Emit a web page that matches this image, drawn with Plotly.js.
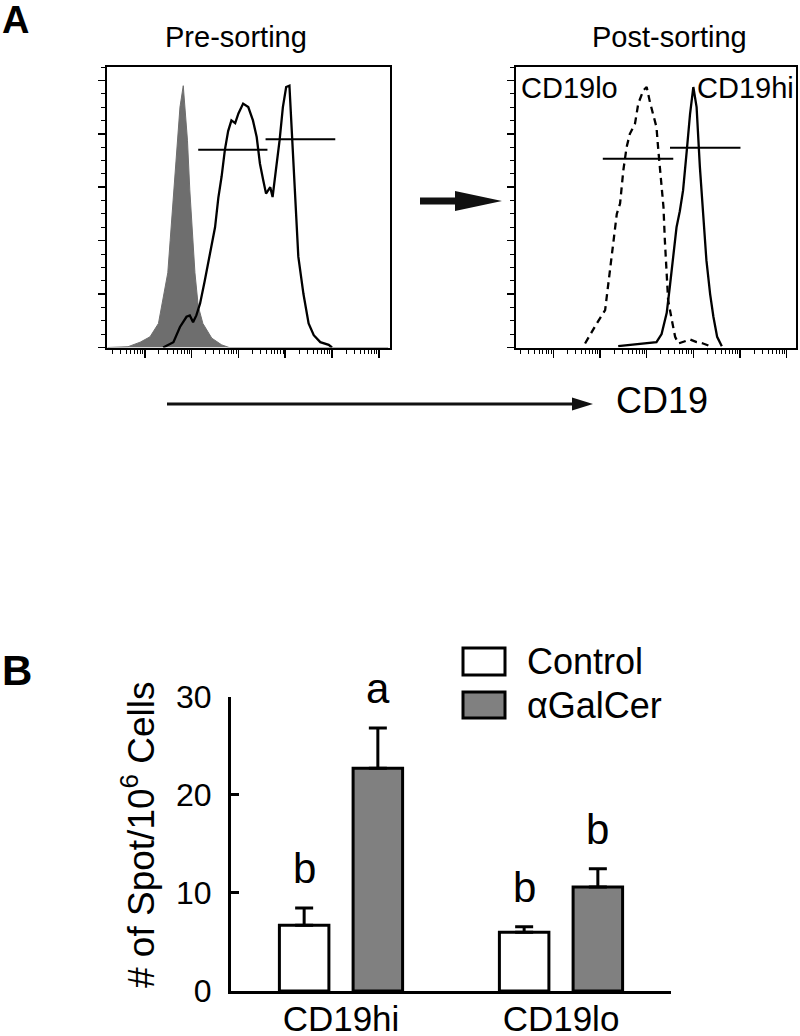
<!DOCTYPE html>
<html>
<head>
<meta charset="utf-8">
<script src="https://cdn.plot.ly/plotly-3.0.1.min.js"></script>
<style>html,body{margin:0;padding:0;background:#fff;}#chart{width:800px;height:1036px;}</style>
</head>
<body>
<div id="chart"></div>
<script>
// ---------- Panel A: flow histograms (x in log10 decades, y in % of max) ----------
const isoDec = [-0.8,-0.36,-0.1,0.11,0.29,0.49,0.54,0.62,0.69,0.75,0.82,0.91,0.96,1.02,1.07,1.14,1.24,1.43,1.64,1.8,5.2];
const isoY   = [0,0.3,2,4,9,28,40,59,77.6,90,98,77.6,59,40,28,15.5,9,3.5,1,0,0];

const preDec = [0.39,0.61,0.75,0.89,0.96,1.03,1.10,1.18,1.28,1.39,1.50,1.57,1.64,1.71,1.78,1.85,1.93,2.00,2.10,2.21,2.31,2.39,2.46,2.53,2.59,2.68,2.73,2.80,2.88,2.95,3.02,3.09,3.15,3.21,3.28,3.39,3.50,3.61,3.75,3.93,4.0];
const preY   = [0,2,7.7,11.5,12,9.5,12,16.5,25,35,45,56,64,74,81,85,84,87.6,91.3,90,85,78.8,68.8,62.6,57.6,60,56.3,66.3,77.6,90,97.5,98,77.6,52.6,34,20,9,4.6,2,1,0];

const loDec = [0.68,0.79,0.93,1.11,1.21,1.28,1.36,1.43,1.50,1.57,1.64,1.75,1.82,1.93,2.00,2.07,2.14,2.21,2.25,2.30,2.36,2.39,2.43,2.46,2.54,2.61,2.68,2.78,2.93,3.07,3.21,3.36];
const loY   = [1.5,5,9,14,27.7,37.6,50,53.9,66.3,75,80,83.8,91.3,96.3,97.5,91.9,87.5,82.5,73.8,65,52.6,40,27.7,17.7,10.2,4,1.5,2,3,2,1.5,0.5];

const hiDec = [1.39,1.93,2.21,2.32,2.43,2.50,2.57,2.64,2.71,2.78,2.86,2.93,3.00,3.07,3.14,3.21,3.28,3.36,3.43,3.51,3.61];
const hiY   = [0.5,1.5,2,5,13,23.3,35,45,51,58.8,73.8,87.5,97.5,90,67.6,48.9,32.7,20,11.5,4,0.5];

// gates: [start decade, end decade, height]
const preGates  = [[1.14,2.62,74],[2.58,4.07,78]];
const postGates = [[1.06,2.57,70.7],[2.50,4.01,74.8]];

// ---------- Panel B: ELISPOT bars ----------
const groups   = ['CD19hi','CD19lo'];
const series   = ['Control','\u03B1GalCer'];
const control  = [6.7, 6.0];
const controlE = [1.75, 0.55];
const agal     = [22.7, 10.6];
const agalE    = [4.1, 1.85];
const sigCtrl  = ['b','b'];
const sigAgal  = ['a','b'];

// ---------- helpers ----------
const W = 800, H = 1036;
const fx = px => px / W;
const fy = py => 1 - py / H;
const lin = d => d.map(v => Math.pow(10, v));
function gateTrace(g, xa, ya){
  const x = [], y = [];
  g.forEach(s => { x.push(Math.pow(10,s[0]), Math.pow(10,s[1]), null); y.push(s[2], s[2], null); });
  return {x, y, xaxis: xa, yaxis: ya, mode: 'lines', line: {color: '#000', width: 2}, hoverinfo: 'skip'};
}
const FONT = 'Liberation Sans, Arial, Helvetica, sans-serif';

const traces = [
  {x: lin(isoDec), y: isoY, xaxis: 'x', yaxis: 'y', mode: 'lines', fill: 'tozeroy',
   fillcolor: '#6e6e6e', line: {color: '#6e6e6e', width: 1}},
  {x: lin(preDec), y: preY, xaxis: 'x', yaxis: 'y', mode: 'lines', line: {color: '#000', width: 2.3}},
  gateTrace(preGates, 'x', 'y'),
  {x: lin(loDec), y: loY, xaxis: 'x2', yaxis: 'y2', mode: 'lines', line: {color: '#000', width: 2.3, dash: '7px,5px'}},
  {x: lin(hiDec), y: hiY, xaxis: 'x2', yaxis: 'y2', mode: 'lines', line: {color: '#000', width: 2.3}},
  gateTrace(postGates, 'x2', 'y2'),
  {type: 'bar', name: series[0], x: groups, y: control, xaxis: 'x3', yaxis: 'y3',
   width: 0.225, offset: -0.28,
   marker: {color: '#ffffff', line: {color: '#000', width: 3}},
   error_y: {type: 'data', array: controlE, arrayminus: [0,0], symmetric: false, color: '#000', thickness: 3, width: 9}},
  {type: 'bar', name: series[1], x: groups, y: agal, xaxis: 'x3', yaxis: 'y3',
   width: 0.225, offset: 0.055,
   marker: {color: '#808080', line: {color: '#000', width: 3}},
   error_y: {type: 'data', array: agalE, arrayminus: [0,0], symmetric: false, color: '#000', thickness: 3, width: 9}}
];

const histX = (dom, rng, anchor) => ({
  domain: dom, type: 'log', range: rng, anchor: anchor, showline: true, mirror: true, linewidth: 2, linecolor: '#000',
  showgrid: false, zeroline: false, showticklabels: false, ticks: 'outside', ticklen: 8, tickwidth: 1.5,
  tickcolor: '#000', dtick: 1,
  minor: {ticks: 'outside', ticklen: 4, tickwidth: 1, tickcolor: '#000', dtick: 'D1', showgrid: false}
});
const histY = (dom, anchor) => ({
  domain: dom, range: [0, 105], anchor: anchor, showline: true, mirror: true, linewidth: 2, linecolor: '#000',
  showgrid: false, zeroline: false, showticklabels: false, ticks: 'outside', ticklen: 7, tickwidth: 1.5,
  tickcolor: '#000', dtick: 20, tick0: 0,
  minor: {ticks: 'outside', ticklen: 4, tickwidth: 1, tickcolor: '#000', dtick: 5, showgrid: false}
});

function label(text, px, py, size, extra){
  return Object.assign({text: text, x: fx(px), y: fy(py), xref: 'paper', yref: 'paper',
    xanchor: 'center', yanchor: 'middle', showarrow: false,
    font: {size: size, color: '#000', family: FONT}}, extra || {});
}
const annotations = [
  label('<b>A</b>', 0, 20, 38, {xanchor: 'left'}),
  label('<b>B</b>', 0, 670, 42, {xanchor: 'left'}),
  label('Pre-sorting', 236, 37, 29),
  label('Post-sorting', 669, 37, 29),
  label('CD19lo', 519, 88, 29, {xanchor: 'left'}),
  label('CD19hi', 695, 88, 29, {xanchor: 'left'}),
  label('CD19', 614, 400, 36, {xanchor: 'left'}),
  label('# of Spot/10<sup>6</sup> Cells', 138, 835, 37, {textangle: -90}),
  label(series[0], 525, 661, 36, {xanchor: 'left'}),
  label(series[1], 525, 705, 36, {xanchor: 'left'})
];
// significance letters above bars
groups.forEach((g, i) => {
  annotations.push({text: sigCtrl[i], x: i - 0.1675, y: control[i] + controlE[i], xref: 'x3', yref: 'y3', xanchor: 'center', yanchor: 'bottom', yshift: 14, showarrow: false, font: {size: 42, color: '#000', family: FONT}});
  annotations.push({text: sigAgal[i], x: i + 0.1675, y: agal[i] + agalE[i], xref: 'x3', yref: 'y3', xanchor: 'center', yanchor: 'bottom', yshift: 14, showarrow: false, font: {size: 42, color: '#000', family: FONT}});
});

function poly(pts){ return 'M' + pts.map(p => fx(p[0]) + ',' + fy(p[1])).join('L') + 'Z'; }
const shapes = [
  // block arrow between histograms
  {type: 'path', xref: 'paper', yref: 'paper', path: poly([[420,197.5],[455,197.5],[455,191],[502,201],[455,211],[455,204.5],[420,204.5]]), fillcolor: '#111', line: {width: 0}},
  // CD19 axis arrow
  {type: 'line', xref: 'paper', yref: 'paper', x0: fx(167), x1: fx(576), y0: fy(404), y1: fy(404), line: {color: '#111', width: 3}},
  {type: 'path', xref: 'paper', yref: 'paper', path: poly([[572,397.5],[593,404],[572,410.5]]), fillcolor: '#111', line: {width: 0}},
  // legend swatches
  {type: 'rect', xref: 'paper', yref: 'paper', x0: fx(463), x1: fx(505), y0: fy(648), y1: fy(675), fillcolor: '#ffffff', line: {color: '#000', width: 3}},
  {type: 'rect', xref: 'paper', yref: 'paper', x0: fx(463), x1: fx(505), y0: fy(692), y1: fy(718), fillcolor: '#808080', line: {color: '#000', width: 3}}
];

const layout = {
  width: W, height: H, autosize: false, showlegend: false,
  margin: {l: 0, r: 0, t: 0, b: 0, pad: 0},
  paper_bgcolor: '#fff', plot_bgcolor: '#fff',
  font: {family: FONT, color: '#000'},
  barmode: 'overlay',
  xaxis: histX([fx(107), fx(390)], [-0.81, 5.24], 'y'),
  yaxis: histY([fy(347.5), fy(67)], 'x'),
  xaxis2: histX([fx(516), fx(796)], [-0.8, 5.2], 'y2'),
  yaxis2: histY([fy(347.5), fy(67)], 'x2'),
  xaxis3: {domain: [fx(231), fx(671)], range: [-0.5, 1.5], anchor: 'y3', showline: true, linewidth: 3, linecolor: '#000',
           showgrid: false, zeroline: false, ticks: '', tickfont: {size: 35, family: FONT, color: '#000'}, ticklabelstandoff: -5},
  yaxis3: {domain: [fy(991), fy(696.7)], range: [0, 30], anchor: 'x3', showline: true, linewidth: 3, linecolor: '#000',
           showgrid: false, zeroline: false, ticks: 'inside', ticklen: 8, tickwidth: 3, tickcolor: '#000', dtick: 10,
           ticklabelstandoff: 10, tickfont: {size: 32, family: FONT, color: '#000'}},
  annotations, shapes
};

Plotly.newPlot('chart', traces, layout, {staticPlot: true, displayModeBar: false});
</script>
</body>
</html>
